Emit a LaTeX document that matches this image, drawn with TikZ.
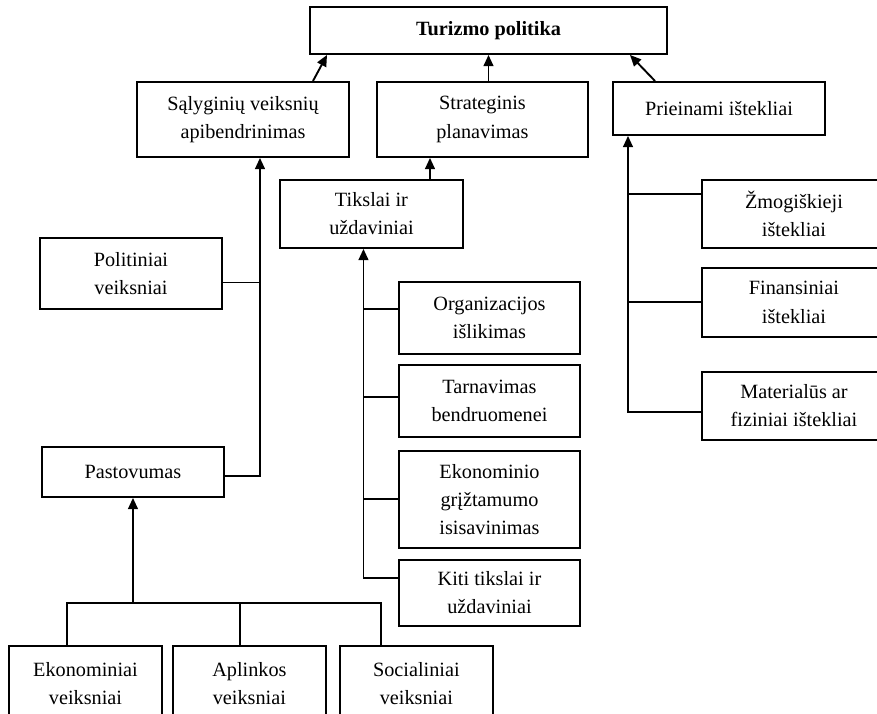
\documentclass[tikz,border=0pt]{standalone}
\usepackage{fontspec}
\setmainfont{Liberation Serif}
\usetikzlibrary{
arrows.meta,
calc,
positioning
}
\tikzset{>={Triangle[length=8pt,width=7pt]}}

\begin{document}
\begin{tikzpicture}[x=0.025cm, y=-0.025cm, font=\fontsize{14.4}{20}\selectfont, line width=1.35pt]
		\tikzset{box/.style={draw,solid,align=center,inner sep=2pt,minimum width=4.55cm}}
		
		\useasboundingbox (0,0) rectangle (877,714);
		\clip (0,0) rectangle (877,714);
		
		% top row
		\node[box,minimum width=8.925cm,minimum height=1.175cm] (turizm) at (488.5,30.5) {\textbf{Turizmo politika}};
		
		\node[box,minimum width=5.3cm,minimum height=1.875cm,anchor=north west] (salyg) at (136,81) {Sąlyginių veiksnių\\apibendrinimas};
		\node[box,minimum width=5.275cm,minimum height=1.875cm,anchor=north west] (strat) at (376,81) {Strateginis\\planavimas};
		\node[box,minimum width=5.3cm,minimum height=1.325cm,anchor=north west] (prein) at (612,81) {Prieinami ištekliai};
		
		\node[box,minimum width=4.575cm,minimum height=1.7cm,anchor=north west] (tiksl) at (279,179) {Tikslai ir\\uždaviniai};
		
		% left branch
		\node[box,minimum height=1.775cm,anchor=north west] (polit) at (39,237) {Politiniai\\veiksniai};
		\node[box,minimum height=1.25cm,anchor=north west] (pastov) at (41,446) {Pastovumas};
		
		\node[box,minimum width=3.825cm,minimum height=1.875cm,anchor=north west] (ekon) at (8,645) {Ekonominiai\\veiksniai};
		\node[box,minimum width=3.825cm,minimum height=1.875cm,right=0.225cm of ekon] (aplin) {Aplinkos\\veiksniai};
		\node[box,minimum width=3.825cm,minimum height=1.875cm,right=0.3cm of aplin] (soc) {Socialiniai\\veiksniai};
		
		% middle branch
		\node[box,minimum width=4.525cm,minimum height=1.8cm,anchor=north west] (org) at (398,281) {Organizacijos\\išlikimas};
		\node[box,minimum width=4.525cm,minimum height=1.8cm,below=0.225cm of org] (tarn) {Tarnavimas\\bendruomenei};
		\node[box,minimum width=4.525cm,minimum height=2.425cm,below=0.3cm of tarn] (ekgr) {Ekonominio\\grįžtamumo\\isisavinimas};
		\node[box,minimum width=4.525cm,minimum height=1.65cm,below=0.25cm of ekgr] (kiti) {Kiti tikslai ir\\uždaviniai};
		
		% right branch
		\node[box,minimum width=4.6cm,minimum height=1.7cm,anchor=north west] (zmog) at (701,179) {Žmogiškieji\\ištekliai};
		\node[box,minimum width=4.6cm,minimum height=1.725cm,below=0.45cm of zmog] (fin) {Finansiniai\\ištekliai};
		\node[box,minimum width=4.6cm,minimum height=1.7cm,below=0.825cm of fin] (mat) {Materialūs ar\\fiziniai ištekliai};
		
		% arrows to the top
		\draw[->] ([xshift=1.75cm]salyg.north) -- ([xshift=0.45cm]turizm.south west);
		\draw[->] (turizm.south |- strat.north) -- (turizm.south);
		\draw[->] ([xshift=1.075cm]prein.north west) -- ([xshift=-0.95cm]turizm.south east);
		\draw[->] ([xshift=1.4625cm]tiksl.north) -- ([xshift=1.4625cm]tiksl.north |- strat.south);
		
		% left spine
		\coordinate (salin) at ([xshift=0.425cm]salyg.south);
		\draw[->] ([yshift=-0.1cm]pastov.east) -| (salin);
		\draw ([yshift=-0.225cm]polit.east) -- ([yshift=-0.225cm]polit.east -| salin);
		
		\coordinate (bar) at ([yshift=-2.625cm]pastov.south);
		\draw ([xshift=-0.4625cm]ekon.north) |- (bar) -| ([xshift=-0.8875cm]soc.north);
		\draw ([xshift=-0.2375cm]aplin.north) coordinate (apltop) -- (apltop |- bar);
		\draw[->] (bar) -- (pastov.south);
		
		% middle spine
		\coordinate (tikin) at ([xshift=-0.2cm]tiksl.south);
		\draw[->] ([yshift=0.375cm]kiti.west) -| (tikin);
		\draw ([yshift=0.225cm]org.west) -- ([yshift=0.225cm]org.west -| tikin);
		\draw ([yshift=0.1cm]tarn.west) -- ([yshift=0.1cm]tarn.west -| tikin);
		\draw (ekgr.west) -- (ekgr.west -| tikin);
		
		% right spine
		\coordinate (priin) at ([xshift=0.4cm]prein.south west);
		\draw[->] ([yshift=-0.15cm]mat.west) -| (priin);
		\draw ([yshift=0.5cm]zmog.west) -- ([yshift=0.5cm]zmog.west -| priin);
		\draw (fin.west) -- (fin.west -| priin);
	\end{tikzpicture}
\end{document}
